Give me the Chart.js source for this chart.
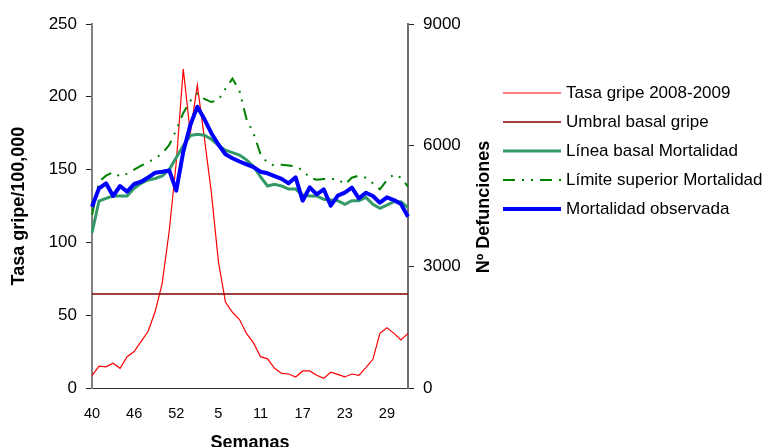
<!DOCTYPE html>
<html lang="es">
<head>
<meta charset="utf-8">
<title>Tasa gripe y mortalidad</title>
<script src="https://cdn.jsdelivr.net/npm/chart.js@4"></script>
<style>
  html, body { margin: 0; padding: 0; background: #fff; }
  #wrap { width: 777px; height: 447px; position: relative; }
</style>
</head>
<body>
<div id="wrap"><canvas id="grafico"></canvas></div>
<script>
// semanas 40..53 de 2008 y 1..32 de 2009
const semanas = [40, 41, 42, 43, 44, 45, 46, 47, 48, 49, 50, 51, 52, 53,
  1, 2, 3, 4, 5, 6, 7, 8, 9, 10, 11, 12, 13, 14, 15, 16, 17, 18, 19, 20,
  21, 22, 23, 24, 25, 26, 27, 28, 29, 30, 31, 32];

// eje izquierdo: tasa por 100.000
const tasaGripe = [8.5, 15, 14.5, 17, 13.5, 21.5, 25, 32, 39, 52.5, 72, 108, 155, 219,
  175, 208, 172, 134, 87, 59, 52, 47, 37.5, 31, 21.5, 20, 13.5, 10, 9.6, 7.6,
  11.7, 11.7, 8.7, 6.6, 10.8, 9.4, 7.6, 9.6, 8.7, 14, 19.7, 37.5, 41.4, 37.5, 33, 37.5];

const umbralGripe = [64.5, 64.5, 64.5, 64.5, 64.5, 64.5, 64.5, 64.5, 64.5, 64.5,
  64.5, 64.5, 64.5, 64.5, 64.5, 64.5, 64.5, 64.5, 64.5, 64.5, 64.5, 64.5, 64.5,
  64.5, 64.5, 64.5, 64.5, 64.5, 64.5, 64.5, 64.5, 64.5, 64.5, 64.5, 64.5, 64.5,
  64.5, 64.5, 64.5, 64.5, 64.5, 64.5, 64.5, 64.5, 64.5, 64.5];

// eje derecho: numero de defunciones
const basalMortalidad = [3840, 4623, 4690, 4747, 4747, 4747, 4937, 5061, 5143, 5180,
  5242, 5400, 5700, 5990, 6240, 6272, 6250, 6150, 6000, 5880, 5820, 5761, 5640,
  5480, 5220, 4994, 5036, 4994, 4920, 4920, 4772, 4747, 4747, 4664, 4648, 4631,
  4541, 4631, 4631, 4714, 4541, 4442, 4524, 4607, 4607, 4458];

const limiteSuperior = [4277, 5100, 5250, 5333, 5230, 5300, 5400, 5500, 5580, 5680,
  5800, 6010, 6380, 6800, 7100, 7280, 7150, 7070, 7120, 7400, 7650, 7350, 6650,
  6300, 5780, 5560, 5500, 5520, 5500, 5480, 5380, 5200, 5150, 5168, 5168, 5168,
  5036, 5200, 5250, 5200, 5061, 4913, 5143, 5283, 5200, 4978];

const mortalidadObservada = [4483, 4938, 5061, 4747, 4994, 4854, 5044, 5101, 5209,
  5323, 5348, 5380, 4878, 5843, 6503, 6955, 6650, 6300, 6020, 5780, 5680, 5600,
  5530, 5460, 5348, 5308, 5240, 5170, 5060, 5209, 4631, 4962, 4789, 4913, 4507,
  4755, 4829, 4953, 4690, 4829, 4747, 4582, 4715, 4648, 4549, 4235];

const ticksTasa = [0, 50, 100, 150, 200, 250];
const ticksDefunciones = [0, 3000, 6000, 9000];

Chart.defaults.font.family = "'Liberation Sans', Arial, sans-serif";
Chart.defaults.color = "#000";

// leyenda a la derecha y titulo del eje derecho (girado hacia arriba)
const leyendaLateral = {
  id: "leyendaLateral",
  afterDraw(chart, args, opts) {
    const ctx = chart.ctx;
    ctx.save();
    ctx.font = "17px 'Liberation Sans', Arial, sans-serif";
    ctx.textBaseline = "middle";
    ctx.textAlign = "left";
    chart.data.datasets.forEach((ds, i) => {
      const y = opts.top + i * opts.step;
      ctx.strokeStyle = ds.borderColor;
      ctx.lineWidth = ds.borderWidth;
      ctx.lineCap = "butt";
      ctx.setLineDash(ds.borderDash || []);
      ctx.beginPath();
      ctx.moveTo(opts.x, y);
      ctx.lineTo(opts.x + opts.largo, y);
      ctx.stroke();
      ctx.setLineDash([]);
      ctx.fillStyle = "#000";
      ctx.fillText(ds.label, opts.x + opts.largo + opts.hueco, y);
    });

    const eje = chart.scales.y1;
    ctx.translate(opts.tituloX, (eje.top + eje.bottom) / 2 + 1);
    ctx.rotate(-Math.PI / 2);
    ctx.font = "bold 18px 'Liberation Sans', Arial, sans-serif";
    ctx.textAlign = "center";
    ctx.fillText(opts.titulo, 0, 0);
    ctx.restore();
  }
};

new Chart(document.getElementById("grafico"), {
  type: "line",
  data: {
    labels: semanas,
    datasets: [
      {
        label: "Tasa gripe 2008-2009",
        data: tasaGripe,
        yAxisID: "y",
        borderColor: "#ff0000",
        borderWidth: 1.2,
        order: 4
      },
      {
        label: "Umbral basal gripe",
        data: umbralGripe,
        yAxisID: "y",
        borderColor: "#800000",
        borderWidth: 1.5,
        order: 3
      },
      {
        label: "Línea basal Mortalidad",
        data: basalMortalidad,
        yAxisID: "y1",
        borderColor: "#339966",
        borderWidth: 3,
        order: 2
      },
      {
        label: "Límite superior Mortalidad",
        data: limiteSuperior,
        yAxisID: "y1",
        borderColor: "#008000",
        borderWidth: 2,
        borderDash: [12, 7, 2, 7, 2, 7],
        order: 1
      },
      {
        label: "Mortalidad observada",
        data: mortalidadObservada,
        yAxisID: "y1",
        borderColor: "#0000ff",
        borderWidth: 4,
        borderJoinStyle: "round",
        order: 0
      }
    ]
  },
  options: {
    responsive: true,
    maintainAspectRatio: false,
    animation: false,
    layout: { padding: { top: 24, left: 0, right: 0, bottom: 0 } },
    elements: {
      point: { radius: 0, hoverRadius: 0 },
      line: { tension: 0, fill: false }
    },
    plugins: {
      legend: { display: false },
      tooltip: { enabled: false },
      leyendaLateral: {
        x: 503, largo: 58, hueco: 5, top: 93, step: 29,
        tituloX: 484, titulo: "Nº Defunciones"
      }
    },
    scales: {
      x: {
        type: "category",
        offset: false,
        grid: { display: false },
        border: { display: true, color: "#333", width: 1 },
        ticks: {
          autoSkip: false,
          maxRotation: 0,
          padding: 9,
          font: { size: 14.5 },
          callback: (v, i) => (i % 6 === 0 ? semanas[i] : null)
        },
        title: {
          display: true,
          text: "Semanas",
          font: { size: 18, weight: "bold" },
          padding: { top: 0, bottom: -7 }
        },
        afterFit: s => { s.height = 59; }
      },
      y: {
        position: "left",
        min: 0,
        max: 250,
        afterBuildTicks: s => { s.ticks = ticksTasa.map(v => ({ value: v })); },
        ticks: { padding: 9, font: { size: 17 }, callback: v => String(v) },
        grid: { drawOnChartArea: false, drawTicks: true, tickLength: 6, color: "#222" },
        border: { color: "#808080", width: 2 },
        title: {
          display: true,
          text: "Tasa gripe/100,000",
          font: { size: 18, weight: "bold" },
          padding: { top: 8, bottom: 0 }
        },
        afterFit: s => { s.width = 92; }
      },
      y1: {
        position: "right",
        min: 0,
        max: 9000,
        afterBuildTicks: s => { s.ticks = ticksDefunciones.map(v => ({ value: v })); },
        ticks: { padding: 9, font: { size: 17 }, callback: v => String(v) },
        grid: { drawOnChartArea: false, drawTicks: true, tickLength: 6, color: "#222" },
        border: { color: "#707070", width: 2 },
        afterFit: s => { s.width = 369; }
      }
    }
  },
  plugins: [leyendaLateral]
});
</script>
</body>
</html>
